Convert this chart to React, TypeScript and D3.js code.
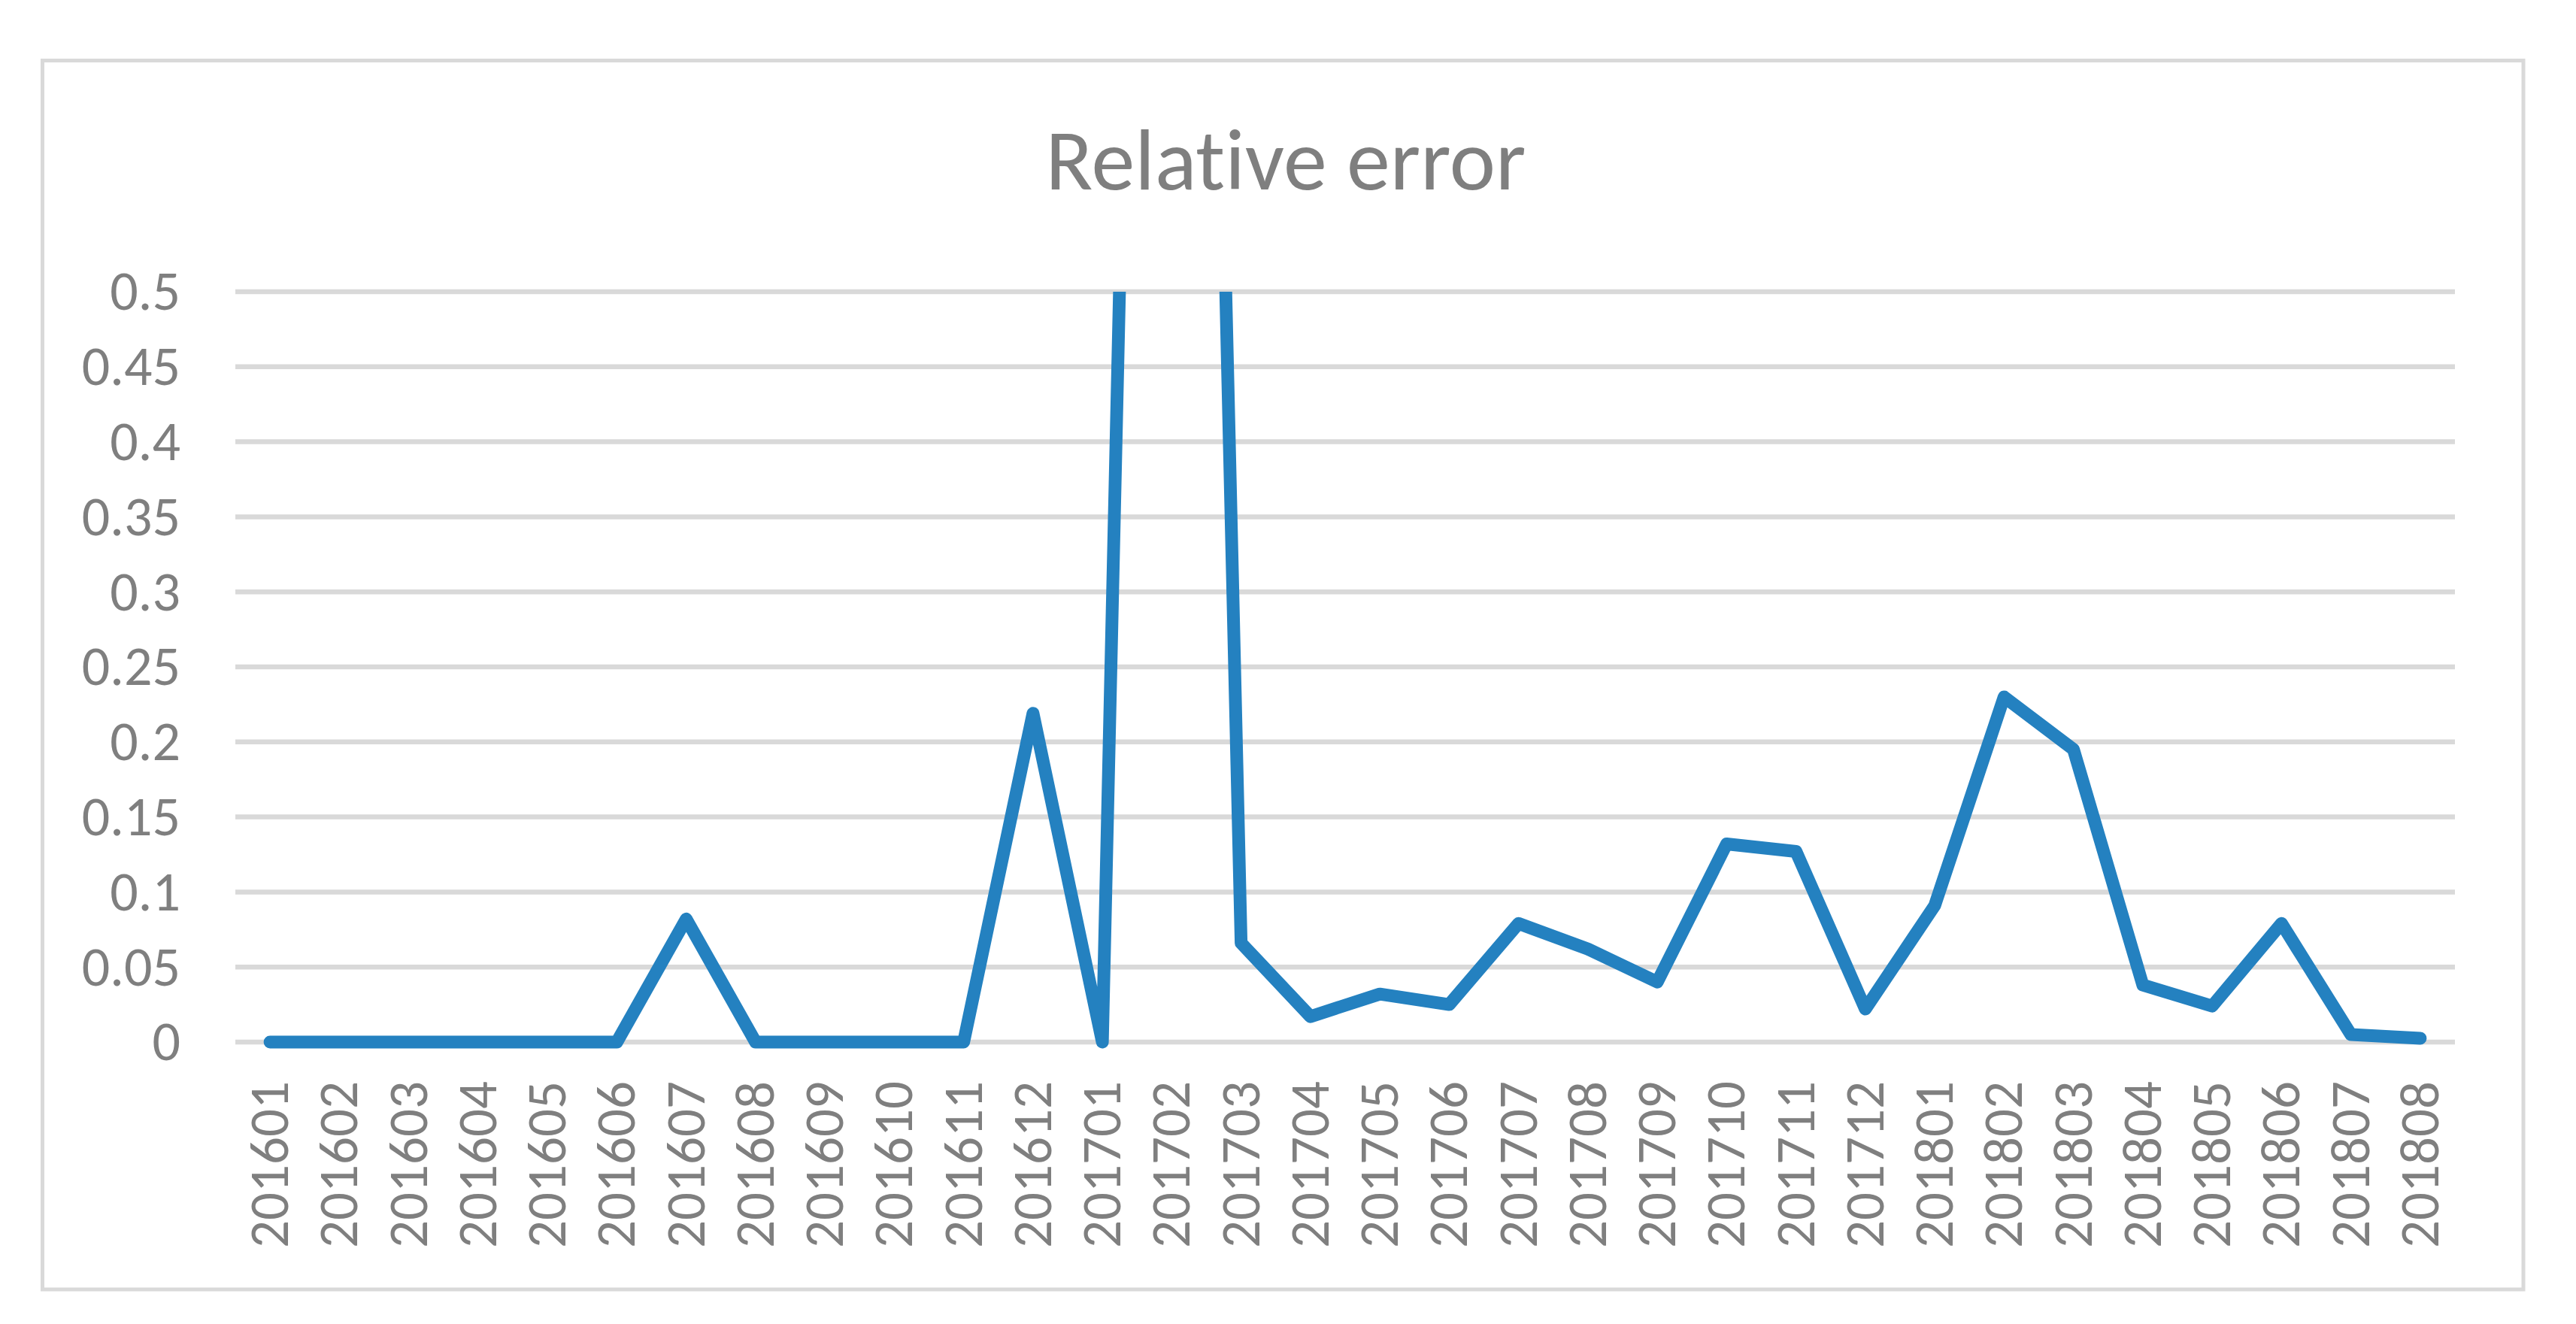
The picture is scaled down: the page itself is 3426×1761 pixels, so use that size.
import React from "react";
import * as d3 from "d3";

const months = [
  "201601", "201602", "201603", "201604", "201605", "201606",
  "201607", "201608", "201609", "201610", "201611", "201612",
  "201701", "201702", "201703", "201704", "201705", "201706",
  "201707", "201708", "201709", "201710", "201711", "201712",
  "201801", "201802", "201803", "201804", "201805", "201806",
  "201807", "201808",
];

const relErr = [
  0, 0, 0, 0, 0, 0,
  0.082, 0, 0, 0, 0, 0.219,
  0, 2.03, 0.066, 0.017, 0.032, 0.025,
  0.079, 0.062, 0.04, 0.132, 0.127, 0.022,
  0.091, 0.23, 0.195, 0.038, 0.024, 0.079,
  0.005, 0.0025,
];

const yTicks = [0, 0.05, 0.1, 0.15, 0.2, 0.25, 0.3, 0.35, 0.4, 0.45, 0.5];

const W = 3426;
const H = 1761;
const font = "Calibri, Carlito, 'Liberation Sans', Arial, sans-serif";
const grey = "#7F7F7F";

export default function App() {
  const left = 313;
  const right = 3265;
  const top = 388;
  const bottom = 1386;

  const x = d3.scalePoint<string>().domain(months).range([left, right]).padding(0.5);
  const y = d3.scaleLinear().domain([0, 0.5]).range([bottom, top]);

  const line = d3
    .line<number>()
    .x((_, i) => x(months[i]) as number)
    .y((d) => y(d));

  return (
    <svg
      width={W}
      height={H}
      style={{ position: "absolute", left: 0, top: 0, background: "#fff", fontVariantLigatures: "none" }}
    >
      <rect x={0} y={0} width={W} height={H} fill="#fff" />
      <rect
        x={56.5}
        y={80.5}
        width={3299.5}
        height={1634.5}
        fill="#fff"
        stroke="#D9D9D9"
        strokeWidth={5}
      />
      <text
        x={1710}
        y={252}
        textAnchor="middle"
        fontFamily={font}
        fontSize={116}
        fill={grey}
      >
        Relative error
      </text>

      {yTicks.map((t) => (
        <g key={t}>
          <line x1={left} x2={right} y1={y(t)} y2={y(t)} stroke="#D9D9D9" strokeWidth={6.5} />
          <text
            x={240}
            y={y(t)}
            dy="0.33em"
            textAnchor="end"
            fontFamily={font}
            fontSize={74}
            fill={grey}
          >
            {t}
          </text>
        </g>
      ))}

      {months.map((m) => (
        <text
          key={m}
          transform={`translate(${x(m)},1438) rotate(-90)`}
          dy="0.33em"
          textAnchor="end"
          fontFamily={font}
          fontSize={73}
          fill={grey}
        >
          {m}
        </text>
      ))}

      <defs>
        <clipPath id="plotClip">
          <rect x={0} y={top} width={W} height={H - top} />
        </clipPath>
      </defs>
      <path
        d={line(relErr) || ""}
        fill="none"
        stroke="#2481C0"
        strokeWidth={17}
        strokeLinejoin="round"
        strokeLinecap="round"
        clipPath="url(#plotClip)"
      />
    </svg>
  );
}
